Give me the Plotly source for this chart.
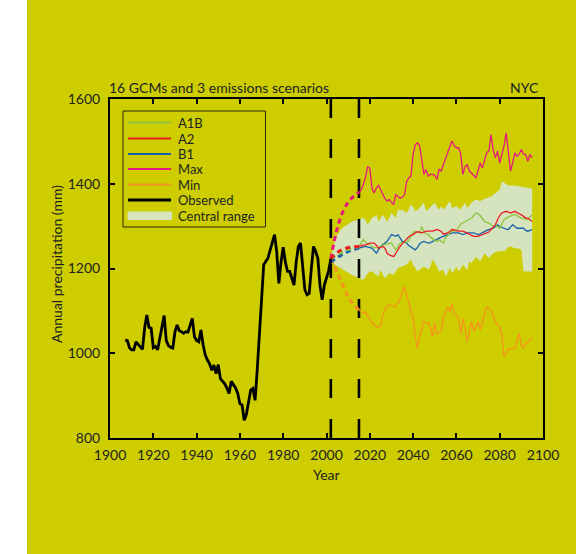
import plotly.graph_objects as go

# ---------------- data ----------------
obs_years = list(range(1907, 2003))
obs_values = [
    1031, 1030, 1013, 1008, 1008, 1027, 1021, 1015, 1009, 1060,
    1090, 1061, 1059, 1013, 1016, 1008, 1035, 1070, 1089, 1030,
    1018, 1014, 1012, 1050, 1067, 1053, 1051, 1047, 1051, 1050,
    1065, 1082, 1039, 1030, 1027, 1055, 1020, 996, 984, 975,
    960, 972, 952, 973, 940, 935, 928, 918, 905, 934,
    925, 918, 905, 881, 878, 842, 856, 885, 913, 917,
    889, 960, 1040, 1110, 1209, 1217, 1225, 1244, 1262, 1280,
    1240, 1165, 1215, 1250, 1215, 1193, 1193, 1175, 1161, 1215,
    1252, 1260, 1210, 1150, 1138, 1141, 1200, 1252, 1240, 1224,
    1160, 1126, 1161, 1181, 1195, 1223,
]

proj_years = list(range(2015, 2096))
a1b = [
    1252, 1260, 1268, 1262, 1258, 1254, 1252, 1250, 1249, 1248,
    1252, 1255, 1257, 1258, 1259, 1260, 1252, 1244, 1252, 1260,
    1261, 1262, 1263, 1266, 1274, 1285, 1288, 1286, 1284, 1299,
    1286, 1282, 1280, 1274, 1270, 1266, 1264, 1268, 1264, 1260,
    1272, 1280, 1285, 1288, 1288, 1288, 1298, 1305, 1308, 1311,
    1314, 1317, 1319, 1325, 1331, 1329, 1325, 1318, 1311, 1309,
    1307, 1303, 1299, 1302, 1299, 1295, 1305, 1315, 1319, 1322,
    1324, 1326, 1327, 1324, 1321, 1319, 1318, 1316, 1315, 1322,
    1327,
]
a2 = [
    1252, 1254, 1255, 1256, 1258, 1260, 1260, 1260, 1255, 1248,
    1250, 1252, 1248, 1236, 1232, 1229, 1228, 1236, 1245, 1252,
    1258, 1264, 1270, 1275, 1278, 1280, 1284, 1287, 1286, 1284,
    1286, 1288, 1288, 1288, 1288, 1290, 1292, 1290, 1288, 1281,
    1282, 1284, 1288, 1292, 1291, 1289, 1288, 1288, 1288, 1286,
    1284, 1281, 1278, 1276, 1276, 1276, 1278, 1280, 1282, 1284,
    1286, 1292, 1298, 1303, 1315, 1325, 1331, 1333, 1335, 1333,
    1331, 1333, 1335, 1332, 1330, 1327, 1323, 1319, 1319, 1315,
    1311,
]
b1 = [
    1248, 1250, 1251, 1252, 1250, 1249, 1248, 1242, 1236, 1244,
    1252, 1256, 1260, 1264, 1272, 1280, 1278, 1276, 1280, 1272,
    1264, 1262, 1260, 1254, 1250, 1246, 1244, 1250, 1258, 1262,
    1264, 1262, 1260, 1261, 1264, 1266, 1270, 1272, 1274, 1276,
    1278, 1280, 1282, 1284, 1284, 1284, 1284, 1282, 1280, 1282,
    1284, 1284, 1284, 1284, 1282, 1280, 1282, 1284, 1287, 1290,
    1292, 1294, 1295, 1299, 1303, 1299, 1296, 1295, 1293, 1292,
    1298, 1303, 1299, 1295, 1295, 1295, 1295, 1290, 1288, 1290,
    1292,
]
max_vals = [
    1380, 1385, 1398, 1415, 1440, 1437, 1390, 1378, 1390, 1396,
    1386, 1375, 1365, 1359, 1363, 1356, 1351, 1374, 1370, 1366,
    1368, 1374, 1405, 1414, 1418, 1470, 1492, 1497, 1490, 1450,
    1422, 1434, 1418, 1422, 1422, 1420, 1410, 1434, 1430, 1445,
    1461, 1475, 1488, 1501, 1490, 1485, 1485, 1470, 1422, 1440,
    1445, 1430, 1425, 1418, 1414, 1430, 1449, 1437, 1455, 1473,
    1477, 1516, 1480, 1461, 1477, 1449, 1469, 1490, 1520, 1480,
    1430, 1450, 1473, 1465, 1470, 1481, 1470, 1469, 1453, 1469,
    1461,
]
min_vals = [
    1102, 1098, 1094, 1098, 1090, 1080, 1071, 1067, 1063, 1059,
    1068, 1090, 1106, 1110, 1114, 1112, 1110, 1112, 1118, 1130,
    1145, 1157, 1138, 1118, 1098, 1082, 1040, 1011, 1040, 1060,
    1075, 1071, 1071, 1060, 1039, 1071, 1047, 1049, 1051, 1086,
    1100, 1110, 1098, 1118, 1094, 1090, 1082, 1047, 1082, 1060,
    1027, 1050, 1075, 1051, 1065, 1075, 1055, 1075, 1095, 1110,
    1105, 1102, 1090, 1075, 1067, 1063, 1043, 992, 1000, 1011,
    1010, 1008, 1012, 1030, 1047, 1019, 1011, 1023, 1027, 1030,
    1039,
]

# transition period (dotted curves) between end of observations and projections
trans_years = [2002, 2005, 2008, 2011, 2015]
trans_a1b = [1223, 1233, 1241, 1247, 1252]
trans_a2 = [1223, 1238, 1246, 1250, 1252]
trans_b1 = [1215, 1226, 1235, 1242, 1248]
trans_max = [1223, 1295, 1339, 1363, 1380]
trans_min = [1223, 1190, 1155, 1125, 1102]

# central range band
cr_years = list(range(2002, 2096))
cr_upper = [
    1223, 1250, 1268, 1280, 1288, 1294, 1298, 1302, 1306, 1308,
    1311, 1313, 1315, 1316, 1318, 1319, 1315, 1303, 1312, 1319,
    1322, 1327, 1311, 1318, 1327, 1320, 1311, 1320, 1331, 1325,
    1319, 1339, 1336, 1339, 1335, 1331, 1340, 1351, 1345, 1335,
    1338, 1343, 1350, 1355, 1335, 1340, 1343, 1350, 1355, 1345,
    1339, 1347, 1339, 1345, 1352, 1359, 1343, 1345, 1347, 1343,
    1339, 1348, 1355, 1343, 1350, 1355, 1360, 1363, 1361, 1359,
    1362, 1364, 1366, 1368, 1370, 1374, 1378, 1382, 1386, 1406,
    1402, 1398, 1396, 1396, 1396, 1396, 1395, 1394, 1393, 1392,
    1391, 1390, 1388, 1388,
]
cr_lower = [
    1223, 1212, 1208, 1205, 1202, 1199, 1196, 1193, 1190, 1187,
    1184, 1181, 1179, 1177, 1175, 1173, 1180, 1188, 1193, 1193,
    1190, 1185, 1181, 1197, 1185, 1177, 1183, 1189, 1187, 1185,
    1193, 1201, 1203, 1205, 1207, 1209, 1215, 1221, 1208, 1201,
    1193, 1197, 1201, 1205, 1201, 1197, 1205, 1221, 1212, 1205,
    1193, 1195, 1197, 1181, 1190, 1201, 1189, 1195, 1205, 1193,
    1200, 1209, 1203, 1197, 1217, 1213, 1220, 1228, 1222, 1217,
    1226, 1236, 1230, 1225, 1230, 1236, 1238, 1240, 1240, 1242,
    1240, 1245, 1250, 1252, 1250, 1248, 1248, 1246, 1244, 1193,
    1193, 1193, 1193, 1193,
]

period_bounds = [2002, 2015]

x_ticks = list(range(1900, 2101, 20))
y_ticks = [800, 1000, 1200, 1400, 1600]

legend_labels = ["A1B", "A2", "B1", "Max", "Min", "Observed", "Central range"]

# ---------------- style ----------------
OLIVE = "#CDCD00"
C_A1B = "#8DC63F"
C_A2 = "#ED1C24"
C_B1 = "#1460AA"
C_MAX = "#E6197E"
C_MIN = "#F7941D"
C_OBS = "#000000"
C_CR = "#D5E3BE"
TXT = "#231F20"
FONT = "Lato"
FS = 14
FS_LEG = 13

W, H = 576, 554
L, R, T, B = 110, 33, 99, 116
PW, PH = W - L - R, H - T - B


def px(x):
    return (x - L) / PW


def py(y):
    return (H - B - y) / PH


fig = go.Figure()

# central range band
fig.add_trace(go.Scatter(
    x=cr_years + cr_years[::-1], y=cr_upper + cr_lower[::-1],
    fill="toself", fillcolor=C_CR, line=dict(width=0), mode="lines",
    hoverinfo="skip", showlegend=False, name="Central range"))

# dashed period bounds
for yr in period_bounds:
    fig.add_trace(go.Scatter(
        x=[yr, yr], y=[1600, 800], mode="lines",
        line=dict(color="black", width=2.6, dash="19px,21px"),
        showlegend=False, hoverinfo="skip"))

# projections
for vals, col, nm in [(min_vals, C_MIN, "Min"), (max_vals, C_MAX, "Max"),
                      (b1, C_B1, "B1"), (a1b, C_A1B, "A1B"), (a2, C_A2, "A2")]:
    fig.add_trace(go.Scatter(x=proj_years, y=vals, mode="lines",
                             line=dict(color=col, width=1.3), name=nm,
                             showlegend=False))

# transitions (dotted)
for vals, col in [(trans_min, C_MIN), (trans_max, C_MAX), (trans_b1, C_B1),
                  (trans_a1b, C_A1B), (trans_a2, C_A2)]:
    fig.add_trace(go.Scatter(x=trans_years, y=vals, mode="lines",
                             line=dict(color=col, width=3, dash="5px,4px",
                                       shape="spline"),
                             showlegend=False, hoverinfo="skip"))

# observed
fig.add_trace(go.Scatter(x=obs_years, y=obs_values, mode="lines",
                         line=dict(color=C_OBS, width=2.8), name="Observed",
                         showlegend=False))

shapes = []
annotations = []

# white strip at the left of the page
shapes.append(dict(type="rect", xref="paper", yref="paper", x0=px(-5), x1=px(27),
                   y0=py(H + 5), y1=py(-5), fillcolor="white", line=dict(width=0),
                   layer="below"))

# manual legend
shapes.append(dict(type="rect", xref="paper", yref="paper", x0=px(123), x1=px(265.5),
                   y0=py(227), y1=py(111), line=dict(color="#2a2a00", width=1)))
legend_colors = [C_A1B, C_A2, C_B1, C_MAX, C_MIN, C_OBS]
row_y = [122.5, 138.5, 154, 169, 184.5, 200, 215.5]
for i, lab in enumerate(legend_labels):
    yy = row_y[i]
    if i < 6:
        shapes.append(dict(type="line", xref="paper", yref="paper",
                           x0=px(128), x1=px(171), y0=py(yy), y1=py(yy),
                           line=dict(color=legend_colors[i], width=3 if i == 5 else 2.2)))
    else:
        shapes.append(dict(type="rect", xref="paper", yref="paper",
                           x0=px(127.5), x1=px(172), y0=py(yy + 4.5), y1=py(yy - 4),
                           fillcolor=C_CR, line=dict(width=0)))
    annotations.append(dict(text=lab, xref="paper", yref="paper", x=px(176),
                            y=py(yy), xanchor="left", yanchor="middle",
                            showarrow=False,
                            font=dict(size=FS_LEG, color=TXT, family=FONT)))

annotations += [
    dict(text="16 GCMs and 3 emissions scenarios", xref="paper", yref="paper",
         x=px(107), y=py(87.5), xanchor="left", yanchor="middle", showarrow=False,
         font=dict(size=FS, color=TXT, family=FONT)),
    dict(text="NYC", xref="paper", yref="paper", x=px(541), y=py(87.5),
         xanchor="right", yanchor="middle", showarrow=False,
         font=dict(size=FS, color=TXT, family=FONT)),
    dict(text="Year", xref="paper", yref="paper", x=px(326), y=py(474),
         xanchor="center", yanchor="middle", showarrow=False,
         font=dict(size=FS, color=TXT, family=FONT)),
    dict(text="Annual precipitation (mm)", xref="paper", yref="paper", x=px(56),
         y=py(264), xanchor="center", yanchor="middle", textangle=-90,
         showarrow=False, font=dict(size=FS, color=TXT, family=FONT)),
]

axis_common = dict(showline=True, linecolor="black", linewidth=2, mirror="ticks",
                   ticks="inside", ticklen=5, tickwidth=2, tickcolor="black",
                   showgrid=False, zeroline=False,
                   tickfont=dict(size=FS, color=TXT, family=FONT))

fig.update_layout(
    width=W, height=H,
    margin=dict(l=L, r=R, t=T, b=B),
    paper_bgcolor=OLIVE, plot_bgcolor=OLIVE,
    showlegend=False,
    xaxis=dict(range=[1900, 2100], tickvals=x_ticks, ticklabelstandoff=3, **axis_common),
    yaxis=dict(range=[800, 1600], tickvals=y_ticks, ticklabelstandoff=5, **axis_common),
    shapes=shapes, annotations=annotations,
)

fig.write_html("out.html",
               config={"displayModeBar": False},
               post_script="document.body.style.margin='0px';"
                           "document.body.style.overflow='hidden';")
